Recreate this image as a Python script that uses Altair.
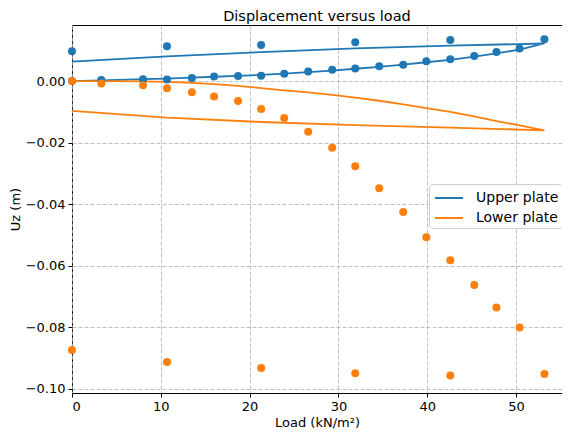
import altair as alt
import pandas as pd

# ---- data ----
series_names = ["Upper plate", "Lower plate"]
series_colors = ["#1f77b4", "#ff7f0e"]

# measured points, loading branch
load_loading = [0, 3.3, 8.0, 10.7, 13.5, 16.0, 18.7, 21.3, 23.9, 26.6,
                29.3, 31.9, 34.6, 37.3, 39.9, 42.6, 45.3, 47.8, 50.4]
upper_loading_pts = [0.0000, 0.0003, 0.0006, 0.0005, 0.0010, 0.0015, 0.0016, 0.0017, 0.0024, 0.0031,
                     0.0037, 0.0041, 0.0048, 0.0053, 0.0064, 0.0071, 0.0081, 0.0094, 0.0106]
lower_loading_pts = [0.0000, -0.0008, -0.0014, -0.0023, -0.0036, -0.0050, -0.0065, -0.0091, -0.0120, -0.0165,
                     -0.0217, -0.0277, -0.0348, -0.0425, -0.0507, -0.0582, -0.0662, -0.0735, -0.0800]

# measured points, unloading branch
load_unloading = [53.2, 42.6, 31.9, 21.3, 10.7, 0]
upper_unloading_pts = [0.0136, 0.0133, 0.0126, 0.0117, 0.0113, 0.0097]
lower_unloading_pts = [-0.0951, -0.0956, -0.0949, -0.0932, -0.0912, -0.0873]

# computed curves, loading branch
load_curve_up = [0, 3.3, 8.0, 10.7, 13.5, 16.0, 18.7, 21.3, 23.9, 26.6,
                 29.3, 31.9, 34.6, 37.3, 39.9, 42.6, 45.3, 47.8, 50.4, 53.2]
upper_curve_up = [0.0000, 0.0002, 0.0006, 0.0008, 0.0011, 0.0014, 0.0017, 0.0020, 0.0024, 0.0029,
                  0.0034, 0.0040, 0.0046, 0.0053, 0.0061, 0.0069, 0.0079, 0.0090, 0.0102, 0.0122]
lower_curve_up = [0.0000, 0.0000, -0.0001, -0.0003, -0.0006, -0.0010, -0.0016, -0.0023, -0.0030, -0.0037,
                  -0.0045, -0.0054, -0.0064, -0.0076, -0.0088, -0.0100, -0.0115, -0.0130, -0.0144, -0.0160]
# computed curves, unloading branch
load_curve_down = [53.2, 42.6, 31.9, 21.3, 10.7, 0]
upper_curve_down = [0.0122, 0.0115, 0.0106, 0.0094, 0.0080, 0.0063]
lower_curve_down = [-0.0160, -0.0151, -0.0143, -0.0133, -0.0119, -0.0097]

# ---- tables ----
line_rows = []
for name, up, down in [(series_names[0], upper_curve_up, upper_curve_down),
                       (series_names[1], lower_curve_up, lower_curve_down)]:
    step = 0
    for x, y in zip(load_curve_up, up):
        line_rows.append({"series": name, "step": step, "load": x, "uz": y}); step += 1
    for x, y in zip(load_curve_down[1:], down[1:]):
        line_rows.append({"series": name, "step": step, "load": x, "uz": y}); step += 1
lines_df = pd.DataFrame(line_rows)

pt_rows = []
for name, a, b in [(series_names[0], upper_loading_pts, upper_unloading_pts),
                   (series_names[1], lower_loading_pts, lower_unloading_pts)]:
    for x, y in zip(load_loading, a):
        pt_rows.append({"series": name, "load": x, "uz": y})
    for x, y in zip(load_unloading, b):
        pt_rows.append({"series": name, "load": x, "uz": y})
pts_df = pd.DataFrame(pt_rows)

color_scale = alt.Scale(domain=series_names, range=series_colors)
x_scale = alt.Scale(domain=[0, 55.18], nice=False, zero=False)
y_scale = alt.Scale(domain=[-0.1013, 0.0182], nice=False, zero=False)

grid_kw = dict(grid=True, gridColor="#b0b0b0", gridDash=[4, 2], gridWidth=0.8,
               domain=False, tickColor="black", tickSize=4, labelColor="black",
               labelFontSize=13, titleFontSize=13, titleFontWeight="normal",
               titleColor="black", labelFont="DejaVu Sans", titleFont="DejaVu Sans")

x_enc = alt.X("load:Q", scale=x_scale,
              axis=alt.Axis(title="Load (kN/m²)", values=[0, 10, 20, 30, 40, 50], format="d",
                            labelPadding=3, titlePadding=3, **grid_kw))
y_enc = alt.Y("uz:Q", scale=y_scale,
              axis=alt.Axis(title="Uz (m)", values=[-0.10, -0.08, -0.06, -0.04, -0.02, 0.0], format=".2f",
                            labelPadding=3, titlePadding=3, **grid_kw))

lines = alt.Chart(lines_df).mark_line(strokeWidth=1.8).encode(
    x=x_enc, y=y_enc,
    order="step:Q",
    color=alt.Color("series:N", scale=color_scale, sort=series_names,
                    legend=alt.Legend(title=None, orient="none", legendX=357, legendY=159,
                                      symbolType="M-0.8,0H2", symbolSize=400, symbolStrokeWidth=2,
                                      labelFontSize=14, labelFont="DejaVu Sans", labelColor="black",
                                      fillColor="white", strokeColor="#d0d0d0", cornerRadius=3,
                                      padding=3, rowPadding=2, labelOffset=22)),
)

points = alt.Chart(pts_df).mark_circle(size=64, opacity=1).encode(
    x=x_enc, y=y_enc,
    color=alt.Color("series:N", scale=color_scale, legend=None),
)

chart = alt.layer(lines, points).properties(
    width=490, height=368,
    title=alt.TitleParams("Displacement versus load", fontSize=14.5, fontWeight="normal",
                          font="DejaVu Sans", color="black", anchor="middle", offset=1),
    autosize=alt.AutoSizeParams(type="none"),
    padding={"left": 64, "top": 17, "right": 0, "bottom": 37},
).configure_view(stroke="black", strokeWidth=1)

chart.save("out.html", embed_options={"renderer": "svg", "actions": False})
